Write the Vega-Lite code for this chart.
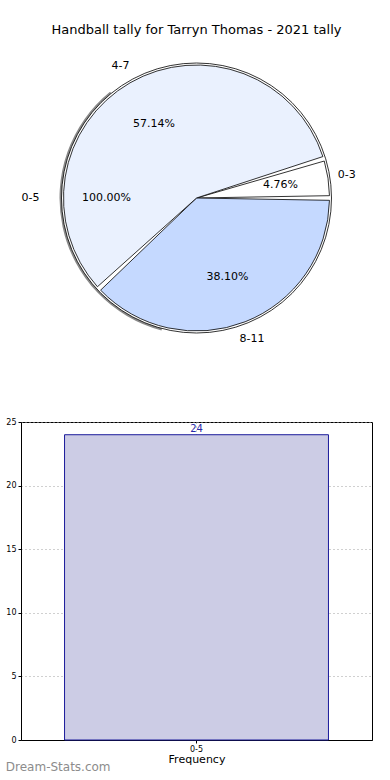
{
  "$schema": "https://vega.github.io/schema/vega-lite/v6.json",
  "padding": {"top": 24, "left": 5, "right": 0, "bottom": 0},
  "config": {
    "view": {"stroke": null},
    "font": "DejaVu Sans",
    "text": {"font": "DejaVu Sans"}
  },
  "datasets": {
    "slices": [
      {"cat": "0-3", "count": 1, "ord": 1, "pct": "4.76%"},
      {"cat": "8-11", "count": 8, "ord": 2, "pct": "38.10%"},
      {"cat": "4-7", "count": 12, "ord": 3, "pct": "57.14%"}
    ],
    "whole": [
      {"cat": "0-5", "count": 24, "pct": "100.00%"}
    ],
    "bars": [
      {"bin": "0-5", "freq": 24}
    ]
  },
  "spacing": 68,
  "vconcat": [
    {
      "title": {"text": "Handball tally for Tarryn Thomas - 2021 tally", "fontSize": 13, "fontWeight": "normal", "color": "#000000", "font": "DejaVu Sans", "offset": 10, "anchor": "middle"},
      "width": 351,
      "height": 302,
      "resolve": {"scale": {"theta": "independent"}},
      "layer": [
        {
          "data": {"name": "whole"},
          "layer": [
            {
              "mark": {"type": "arc", "radius": 137, "theta": 3.4, "theta2": 5.6, "fill": "#8a8a8a", "stroke": null},
              "encoding": {}
            },
            {
              "mark": {"type": "arc", "radius": 135, "fill": "#ffffff", "stroke": "#000000", "strokeWidth": 0.8},
              "encoding": {
                "theta": {"field": "count", "type": "quantitative", "stack": true, "scale": {"range": [1.5708, 7.854]}}
              }
            }
          ]
        },
        {
          "data": {"name": "slices"},
          "layer": [
            {
              "mark": {"type": "arc", "radius": 133, "padAngle": 0.035, "stroke": "#000000", "strokeWidth": 0.8},
              "encoding": {
                "theta": {"field": "count", "type": "quantitative", "stack": true, "scale": {"range": [1.27159, 7.55478]}},
                "order": {"field": "ord", "type": "quantitative"},
                "color": {"field": "cat", "type": "nominal", "legend": null, "scale": {"domain": ["0-3", "8-11", "4-7"], "range": ["#ffffff", "#c5d9ff", "#eaf1fe"]}}
              }
            },
            {
              "mark": {"type": "text", "radius": 85, "fontSize": 11, "color": "#000000"},
              "encoding": {
                "theta": {"field": "count", "type": "quantitative", "stack": true, "scale": {"range": [1.27159, 7.55478]}},
                "order": {"field": "ord", "type": "quantitative"},
                "text": {"field": "pct"}
              }
            },
            {
              "mark": {"type": "text", "radius": 152, "fontSize": 11, "color": "#000000"},
              "encoding": {
                "theta": {"field": "count", "type": "quantitative", "stack": true, "scale": {"range": [1.27159, 7.55478]}},
                "order": {"field": "ord", "type": "quantitative"},
                "text": {"field": "cat"}
              }
            }
          ]
        },
        {
          "data": {"name": "whole"},
          "layer": [
            {
              "mark": {"type": "text", "radius": 90, "fontSize": 11, "color": "#000000"},
              "encoding": {
                "theta": {"field": "count", "type": "quantitative", "stack": true, "scale": {"range": [1.5708, 7.854]}},
                "text": {"field": "pct"}
              }
            },
            {
              "mark": {"type": "text", "radius": 166, "fontSize": 11, "color": "#000000"},
              "encoding": {
                "theta": {"field": "count", "type": "quantitative", "stack": true, "scale": {"range": [1.5708, 7.854]}},
                "text": {"field": "cat"}
              }
            }
          ]
        }
      ]
    },
    {
      "title": {"text": "Dream-Stats.com", "orient": "bottom", "anchor": "start", "frame": "bounds", "fontSize": 12, "fontWeight": "normal", "color": "#8c8c8c", "font": "DejaVu Sans", "offset": 0, "dy": -2},
      "width": 351,
      "height": 318,
      "view": {"stroke": "#000000", "strokeWidth": 1},
      "data": {"name": "bars"},
      "encoding": {
        "x": {
          "field": "bin", "type": "nominal",
          "scale": {"paddingInner": 0, "paddingOuter": 0.165},
          "axis": {"title": "Frequency", "titleFontSize": 11, "titleFontWeight": "normal", "titleColor": "#000000", "titlePadding": 0, "labelAngle": 0, "labelFontSize": 8, "labelColor": "#000000", "labelPadding": 2, "tickSize": 3, "tickColor": "#000000", "domainColor": "#000000", "grid": true, "gridColor": "#a0a0a0", "gridDash": [1, 3], "bandPosition": 0.5}
        },
        "y": {
          "field": "freq", "type": "quantitative",
          "scale": {"domain": [0, 25], "nice": false},
          "axis": {"title": null, "values": [0, 5, 10, 15, 20, 25], "labelFontSize": 8, "labelColor": "#000000", "labelPadding": 2, "tickSize": 3, "tickColor": "#000000", "domainColor": "#000000", "grid": true, "gridColor": "#a0a0a0", "gridDash": [1, 3]}
        }
      },
      "layer": [
        {
          "mark": {"type": "bar", "fill": "#ccccE5", "stroke": "#1a1a9a", "strokeWidth": 1}
        },
        {
          "mark": {"type": "text", "dy": -6, "fontSize": 10, "color": "#2a2aa8"},
          "encoding": {"text": {"field": "freq", "type": "quantitative"}}
        }
      ]
    }
  ]
}
